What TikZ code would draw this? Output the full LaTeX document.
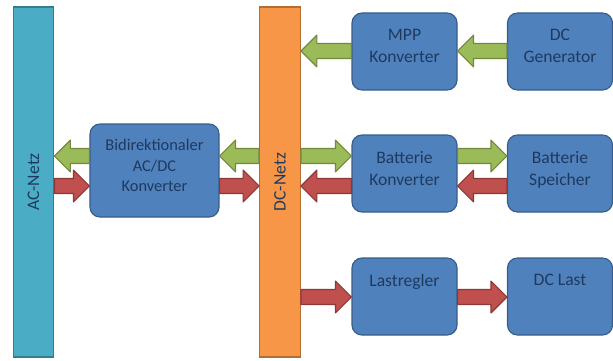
\documentclass[tikz,border=0pt]{standalone}
\usepackage{fontspec}
\setmainfont{Carlito}
\usetikzlibrary{calc,positioning}

\definecolor{acblue}{HTML}{4BACC6}
\definecolor{acblueline}{HTML}{357D91}
\definecolor{dcorange}{HTML}{F79646}
\definecolor{dcorangeline}{HTML}{B66D31}
\definecolor{boxblue}{HTML}{4F81BD}
\definecolor{boxblueline}{HTML}{385D8A}
\definecolor{flowgreen}{HTML}{9BBB59}
\definecolor{flowgreenline}{HTML}{71893F}
\definecolor{flowred}{HTML}{C0504D}
\definecolor{flowredline}{HTML}{8C3836}
\definecolor{textnavy}{HTML}{1F3A5F}

\begin{document}
\begin{tikzpicture}[
    x=0.03cm, y=-0.03cm,
    bar/.style={
		rectangle,
		line width=1pt,
		inner sep=0pt,
		minimum width=1.22cm,
		minimum height=10.5cm,
		text=textnavy,
		font=\fontsize{15}{18}\selectfont
	},
    unit/.style={
		rectangle,
		rounded corners=0.3cm,
		fill=boxblue,
		draw=boxblueline,
		line width=1pt,
		inner sep=0pt,
		minimum width=3.15cm,
		minimum height=2.31cm
	},
    unittext/.style={
		anchor=north,
		inner sep=0pt,
		yshift=-0.49cm,
		align=center,
		text=textnavy,
		font=\fontsize{15}{19}\selectfont
	},
    flow/.style={
		line width=1pt,
		line join=round,
		to path={
		  ($(\tikztostart)+(0,6.4pt)$)
		  -- ($(\tikztotarget)!13.6pt!(\tikztostart)+(0,6.4pt)$)
		  -- ($(\tikztotarget)!13.6pt!(\tikztostart)+(0,13.6pt)$)
		  -- (\tikztotarget)
		  -- ($(\tikztotarget)!13.6pt!(\tikztostart)+(0,-13.6pt)$)
		  -- ($(\tikztotarget)!13.6pt!(\tikztostart)+(0,-6.4pt)$)
		  -- ($(\tikztostart)+(0,-6.4pt)$) -- cycle}
	},
    gflow/.style={flow, fill=flowgreen, draw=flowgreenline},
    rflow/.style={flow, fill=flowred, draw=flowredline}
  ]
  \useasboundingbox (0,0) rectangle (613,360);

  % the two busses
  \node [bar, fill=acblue, draw=acblueline] (ac) at (33.5,182) {\rotatebox{90}{AC-Netz}};
  \node [bar, fill=dcorange, draw=dcorangeline] (dc) at (280,182) {\rotatebox{90}{DC-Netz}};

  % the blocks
  \node [unit, minimum width=3.87cm, minimum height=2.79cm,
    label={[unittext, yshift=0.02cm, font=\fontsize{14}{17.5}\selectfont]north:{Bidirektionaler\\AC/DC\\Konverter}}] (acdc) at (154.5,170.5) {};
  \node [unit, label={[unittext]north:{MPP\\Konverter}}] (mpp) at (404.5,51.5) {};
  \node [unit, label={[unittext]north:{DC\\Generator}}] (gen) at (560,51.5) {};
  \node [unit, label={[unittext]north:{Batterie\\Konverter}}] (batconv) at (404.5,173.5) {};
  \node [unit, label={[unittext]north:{Batterie\\Speicher}}] (batstore) at (560,173.5) {};
  \node [unit, label={[unittext]north:{Lastregler}}] (loadctrl) at (404.5,296.5) {};
  \node [unit, label={[unittext]north:{DC Last}}] (dcload) at (560,296.5) {};

  % power flows
  \draw [gflow] (acdc.west |- 0,156) to (ac.east |- 0,156);
  \draw [rflow] (ac.east |- 0,186) to (acdc.west |- 0,186);
  \draw [gflow] (dc.west |- 0,156) to (acdc.east |- 0,156);
  \draw [rflow] (acdc.east |- 0,186) to (dc.west |- 0,186);

  \draw [gflow] (mpp.west |- 0,51) to (dc.east |- 0,51);
  \draw [gflow] (gen.west |- 0,51) to (mpp.east |- 0,51);

  \draw [gflow] (dc.east |- 0,156) to (batconv.west |- 0,156);
  \draw [rflow] (batconv.west |- 0,186) to (dc.east |- 0,186);
  \draw [gflow] (batconv.east |- 0,156) to (batstore.west |- 0,156);
  \draw [rflow] (batstore.west |- 0,186) to (batconv.east |- 0,186);

  \draw [rflow] (dc.east |- 0,297) to (loadctrl.west |- 0,297);
  \draw [rflow] (loadctrl.east |- 0,297) to (dcload.west |- 0,297);

\end{tikzpicture}
\end{document}
